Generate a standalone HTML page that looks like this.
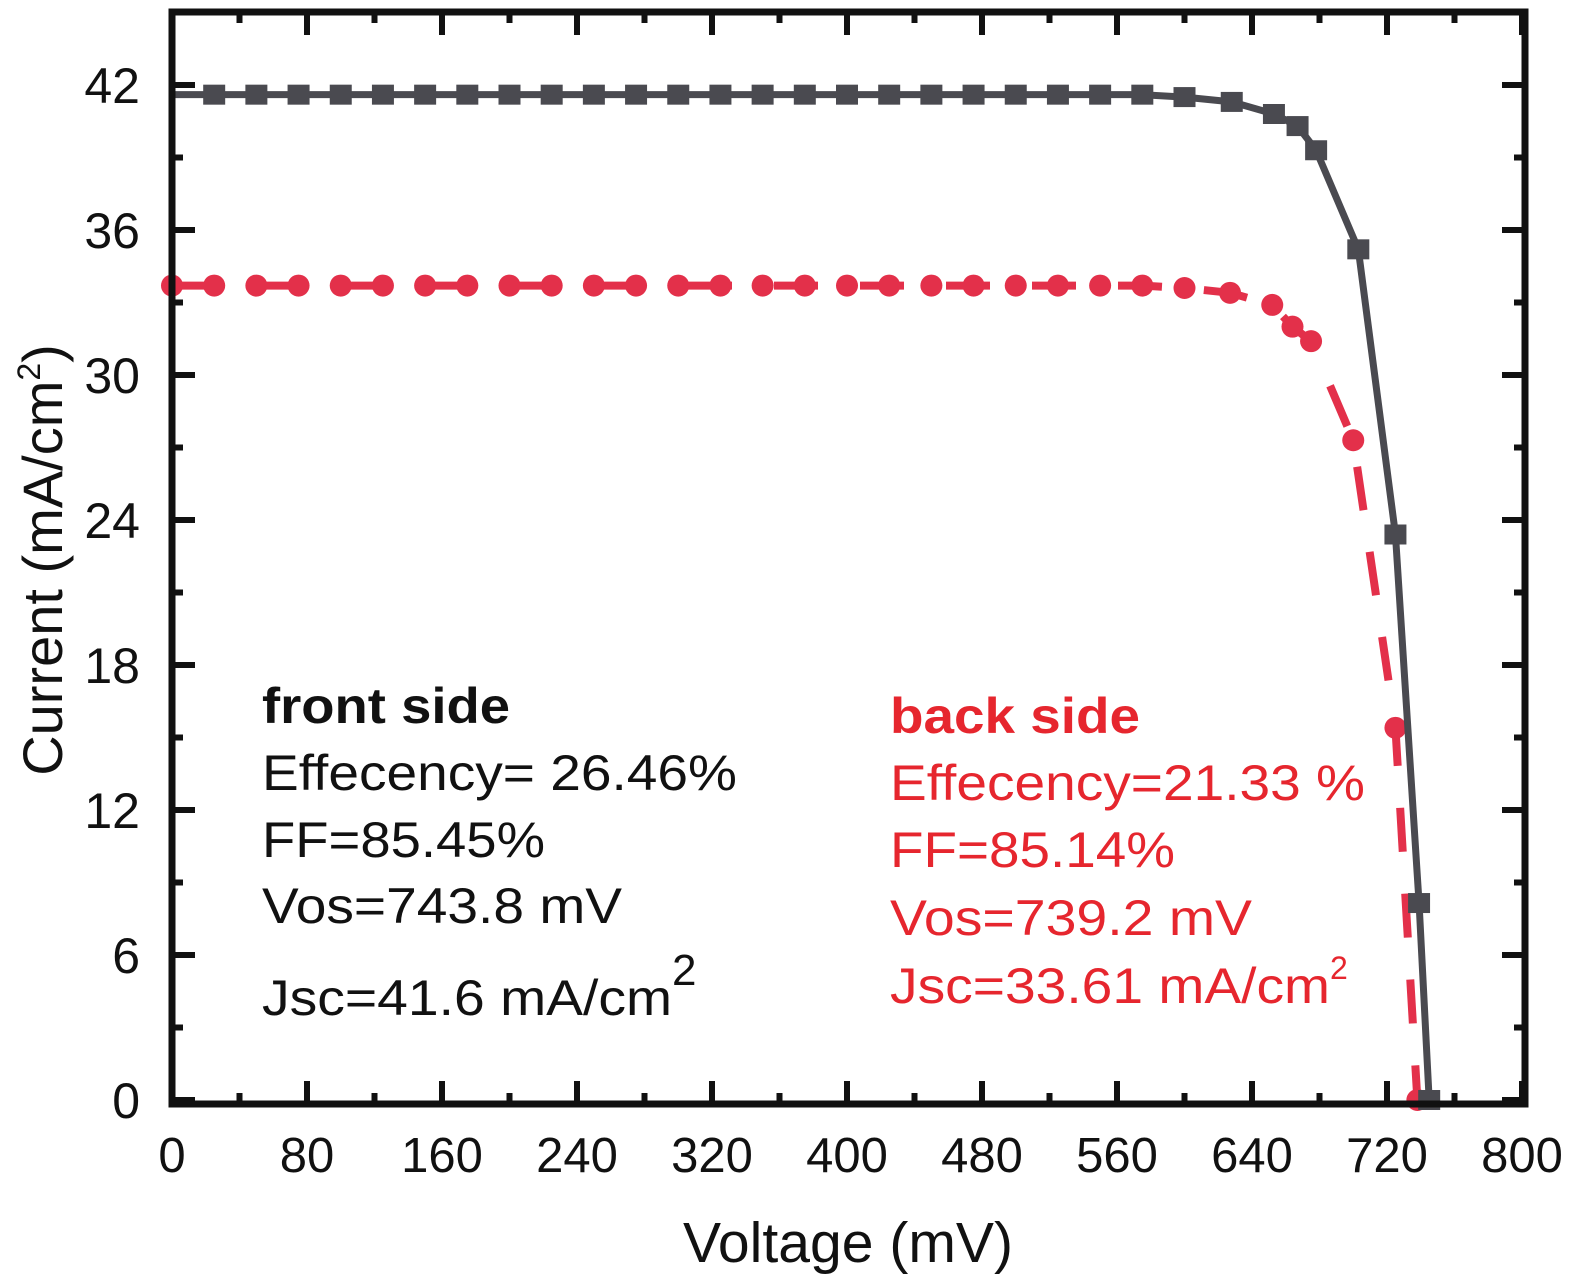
<!DOCTYPE html>
<html><head><meta charset="utf-8"><style>
html,body{margin:0;padding:0;background:#fff;}
svg{display:block;font-family:"Liberation Sans",Arial,sans-serif;}
</style></head><body>
<svg id="chart" width="1575" height="1287" viewBox="0 0 1575 1287" xmlns="http://www.w3.org/2000/svg">
<g id="series"></g>
<g id="axes"></g>
<text x="848" y="1262" font-size="57" text-anchor="middle" fill="#111" textLength="330" lengthAdjust="spacingAndGlyphs">Voltage (mV)</text>
<text transform="translate(62,560) rotate(-90)" font-size="56" text-anchor="middle" fill="#111">Current (mA/cm<tspan dy="-22" font-size="32">2</tspan><tspan dy="22">)</tspan></text>
<g font-size="50" fill="#111">
<text x="262" y="723" font-weight="bold" textLength="248" lengthAdjust="spacingAndGlyphs">front side</text>
<text x="262" y="790" textLength="475" lengthAdjust="spacingAndGlyphs">Effecency= 26.46%</text>
<text x="262" y="857" textLength="283" lengthAdjust="spacingAndGlyphs">FF=85.45%</text>
<text x="262" y="923" textLength="360" lengthAdjust="spacingAndGlyphs">Vos=743.8 mV</text>
<text x="262" y="1015"><tspan textLength="410" lengthAdjust="spacingAndGlyphs">Jsc=41.6 mA/cm</tspan><tspan dy="-30" font-size="44">2</tspan></text>
</g>
<g font-size="50" fill="#e6262e">
<text x="890" y="733" font-weight="bold" textLength="250" lengthAdjust="spacingAndGlyphs">back side</text>
<text x="890" y="800" textLength="475" lengthAdjust="spacingAndGlyphs">Effecency=21.33 %</text>
<text x="890" y="867" textLength="285" lengthAdjust="spacingAndGlyphs">FF=85.14%</text>
<text x="890" y="935" textLength="362" lengthAdjust="spacingAndGlyphs">Vos=739.2 mV</text>
<text x="890" y="1003"><tspan textLength="440" lengthAdjust="spacingAndGlyphs">Jsc=33.61 mA/cm</tspan><tspan dy="-24" font-size="32">2</tspan></text>
</g>
</svg>
<script>
const frontV = [0,25,50,75,100,125,150,175,200,225,250,275,300,325,350,375,400,425,450,475,500,525,550,575,600,628,653,667,678,703,725,739,745];
const frontI = [41.6,41.6,41.6,41.6,41.6,41.6,41.6,41.6,41.6,41.6,41.6,41.6,41.6,41.6,41.6,41.6,41.6,41.6,41.6,41.6,41.6,41.6,41.6,41.6,41.5,41.3,40.8,40.3,39.3,35.2,23.4,8.15,0];
const backV = [0,25,50,75,100,125,150,175,200,225,250,275,300,325,350,375,400,425,450,475,500,525,550,575,600,627,652,664,675,700,725,738];
const backI = [33.7,33.7,33.7,33.7,33.7,33.7,33.7,33.7,33.7,33.7,33.7,33.7,33.7,33.7,33.7,33.7,33.7,33.7,33.7,33.7,33.7,33.7,33.7,33.7,33.6,33.4,32.9,32.0,31.4,27.3,15.4,0];
const xTicks = [0,80,160,240,320,400,480,560,640,720,800];
const yTicks = [0,6,12,18,24,30,36,42];

const NS="http://www.w3.org/2000/svg";
const L=172,R=1525,T=12,B=1104;
function xs(v){return L+(v/800)*(1522-L);}
function ys(i){return 1100-i*(1100-85)/42;}
function mk(tag,attrs,parent){const e=document.createElementNS(NS,tag);for(const k in attrs)e.setAttribute(k,attrs[k]);parent.appendChild(e);return e;}

const axes=document.getElementById('axes');
const series=document.getElementById('series');

const bpts=backV.map((v,i)=>xs(v)+','+ys(backI[i])).join(' ');
const bl=mk('polyline',{points:bpts,fill:'none',stroke:'#e3304a','stroke-width':8,'stroke-dasharray':'44,42','stroke-linejoin':'round'},series);


backV.forEach((v,i)=>{
  const c=mk('circle',{cx:xs(v),cy:ys(backI[i]),r:11,fill:'#e3304a'},series);
  
  
});
const fpts=frontV.map((v,i)=>xs(v)+','+ys(frontI[i])).join(' ');
const fl=mk('polyline',{points:fpts,fill:'none',stroke:'#4a4a50','stroke-width':7,'stroke-linejoin':'round'},series);


frontV.forEach((v,i)=>{
  if(i===0)return;
  const s=mk('rect',{x:xs(v)-11,y:ys(frontI[i])-10,width:22,height:20,fill:'#4a4a50'},series);
  
  
});

const fr=mk('rect',{x:L,y:T,width:R-L,height:B-T,fill:'none',stroke:'#111','stroke-width':7},axes);


for(let v=0;v<=800;v+=40){
  const major=v%80===0, len=major?23:11, x=xs(v);
  const t1=mk('line',{x1:x,y1:B,x2:x,y2:B-len,stroke:'#111','stroke-width':6},axes);
  
  
  const t2=mk('line',{x1:x,y1:T,x2:x,y2:T+len,stroke:'#111','stroke-width':6},axes);
  
  
}
xTicks.forEach(v=>{
  const t=mk('text',{x:xs(v),y:1172,'font-size':49,'text-anchor':'middle',fill:'#111'},axes);
  t.textContent=v;
  
  
});
for(let i=0;i<=45;i+=3){
  const major=i%6===0, len=major?23:11, y=ys(i);
  if(y<T+3)continue;
  const t1=mk('line',{x1:L,y1:y,x2:L+len,y2:y,stroke:'#111','stroke-width':6},axes);
  
  
  const t2=mk('line',{x1:R,y1:y,x2:R-len,y2:y,stroke:'#111','stroke-width':6},axes);
  
  
}
yTicks.forEach(v=>{
  const t=mk('text',{x:140,y:ys(v)+18,'font-size':50,'text-anchor':'end',fill:'#111'},axes);
  t.textContent=v;
  
  
});
</script>
</body></html>
